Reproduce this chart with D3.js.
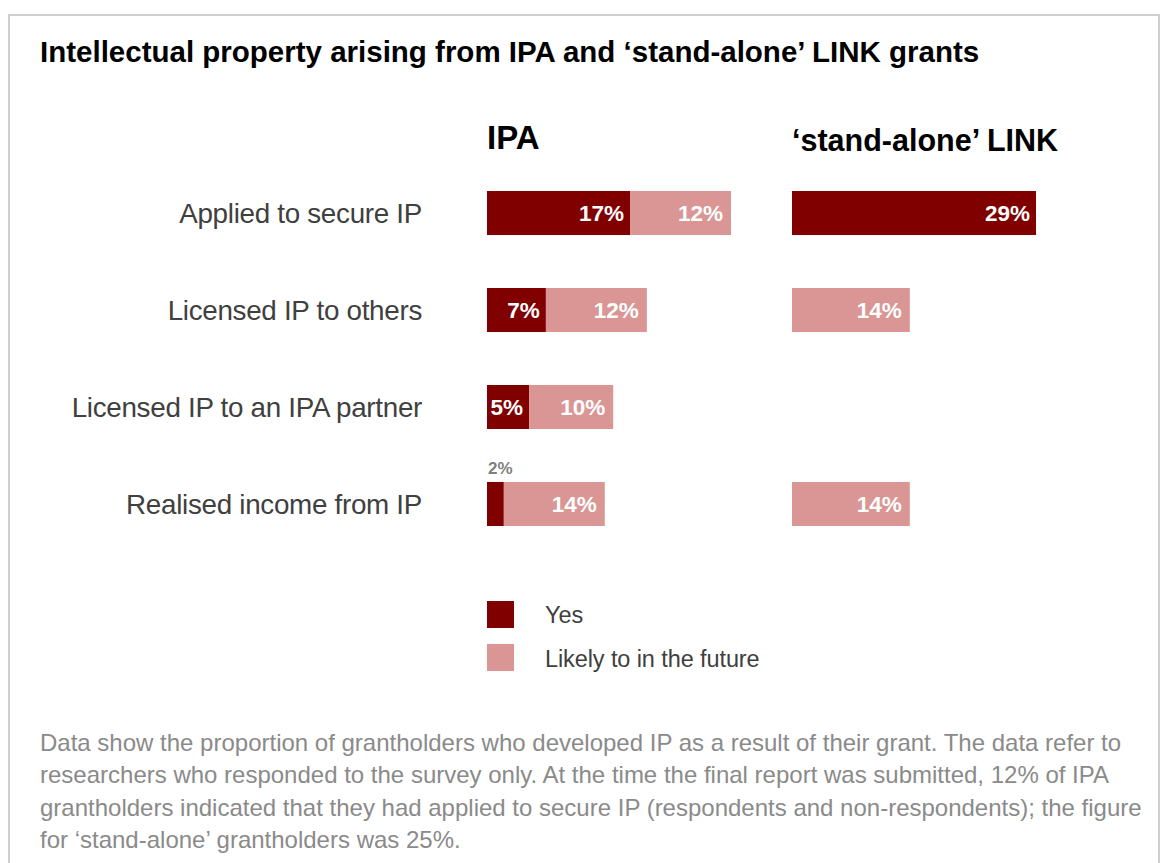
<!DOCTYPE html>
<html>
<head>
<meta charset="utf-8">
<script src="https://cdn.jsdelivr.net/npm/d3@7"></script>
<style>
  body { margin: 0; background: #fff; }
  svg { font-family: "Liberation Sans", Arial, sans-serif; }
</style>
</head>
<body>
<script>
// data
const categories = ['Applied to secure IP', 'Licensed IP to others', 'Licensed IP to an IPA partner', 'Realised income from IP'];
const ipaYes = [17, 7, 5, 2];
const ipaLikely = [12, 12, 10, 12];
const ipaYesLabels = ['17%', '7%', '5%', '2%'];
const ipaLikelyLabels = ['12%', '12%', '10%', '14%'];
const linkYes = [29, 0, 0, 0];
const linkLikely = [0, 14, 0, 14];
const linkYesLabels = ['29%', '', '', ''];
const linkLikelyLabels = ['', '14%', '', '14%'];
const seriesNames = ['Yes', 'Likely to in the future'];
const colors = ['#800000', '#d99694'];
const footnote = [
  'Data show the proportion of grantholders who developed IP as a result of their grant. The data refer to',
  'researchers who responded to the survey only. At the time the final report was submitted, 12% of IPA',
  'grantholders indicated that they had applied to secure IP (respondents and non-respondents); the figure',
  'for \u2018stand-alone\u2019 grantholders was 25%.'
];

const width = 1164, height = 863;

let svg = d3.select('body').append('svg')
    .attr('width', width)
    .attr('height', height);

// frame
svg.append('rect')
    .attr('x', 9).attr('y', 15)
    .attr('width', 1150).attr('height', 900)
    .attr('fill', 'none')
    .attr('stroke', '#cfcfcf')
    .attr('stroke-width', 2);

// title
svg.append('text')
    .attr('x', 40).attr('y', 62)
    .attr('font-size', 29.5).attr('font-weight', 'bold')
    .attr('fill', '#000')
    .text('Intellectual property arising from IPA and \u2018stand-alone\u2019 LINK grants');

// scales
let x = d3.scaleLinear().domain([0, 29]).range([0, 244]);
let y = d3.scaleBand().domain(categories).range([191, 526]).paddingInner(0.546).paddingOuter(0);

// category labels
svg.append('g').selectAll('text')
    .data(categories)
    .enter().append('text')
    .attr('x', 422)
    .attr('y', d => y(d) + y.bandwidth() / 2 + 10)
    .attr('text-anchor', 'end')
    .attr('font-size', 27.8)
    .attr('letter-spacing', -0.3)
    .attr('fill', '#404040')
    .text(d => d);

const drawPanel = (x0, title, titleSize, titleY, yesVals, likelyVals, yesLabels, likelyLabels) => {
  let g = svg.append('g').attr('transform', `translate(${x0},0)`);
  g.append('text')
      .attr('x', 0).attr('y', titleY)
      .attr('font-size', titleSize).attr('font-weight', 'bold')
      .text(title);

  let rows = categories.map((c, i) => ({
    cat: c, yes: yesVals[i], likely: likelyVals[i], yl: yesLabels[i], ll: likelyLabels[i]
  }));

  // yes segments
  g.append('g').selectAll('rect')
      .data(rows.filter(d => d.yes > 0))
      .enter().append('rect')
      .attr('x', x(0))
      .attr('y', d => y(d.cat))
      .attr('width', d => x(d.yes) - x(0))
      .attr('height', y.bandwidth())
      .attr('fill', colors[0]);

  // likely segments
  g.append('g').selectAll('rect')
      .data(rows.filter(d => d.likely > 0))
      .enter().append('rect')
      .attr('x', d => x(d.yes))
      .attr('y', d => y(d.cat))
      .attr('width', d => x(d.yes + d.likely) - x(d.yes))
      .attr('height', y.bandwidth())
      .attr('fill', colors[1]);

  // labels inside (or above if too narrow)
  rows.forEach(d => {
    if (d.yl) {
      let narrow = x(d.yes) - x(0) < 30;
      g.append('text')
          .attr('x', narrow ? x(0) + 1 : x(d.yes) - 6)
          .attr('y', narrow ? y(d.cat) - 8 : y(d.cat) + y.bandwidth() / 2 + 8)
          .attr('text-anchor', narrow ? 'start' : 'end')
          .attr('font-size', narrow ? 17 : 22.5)
          .attr('font-weight', 'bold')
          .attr('fill', narrow ? '#808080' : '#fff')
          .text(d.yl);
    }
    if (d.ll) {
      g.append('text')
          .attr('x', x(d.yes + d.likely) - 8)
          .attr('y', y(d.cat) + y.bandwidth() / 2 + 8)
          .attr('text-anchor', 'end')
          .attr('font-size', 22.5)
          .attr('font-weight', 'bold')
          .attr('fill', '#fff')
          .text(d.ll);
    }
  });
};

drawPanel(487, 'IPA', 33, 149, ipaYes, ipaLikely, ipaYesLabels, ipaLikelyLabels);
drawPanel(792, '\u2018stand-alone\u2019 LINK', 30.5, 151, linkYes, linkLikely, linkYesLabels, linkLikelyLabels);

// legend
let legend = svg.append('g').attr('transform', 'translate(487, 601)');
legend.selectAll('rect')
    .data(seriesNames)
    .enter().append('rect')
    .attr('x', 0)
    .attr('y', (d, i) => i * 43)
    .attr('width', 27).attr('height', 27)
    .attr('fill', (d, i) => colors[i]);
legend.selectAll('text')
    .data(seriesNames)
    .enter().append('text')
    .attr('x', 58)
    .attr('y', (d, i) => i * 44 + 22)
    .attr('font-size', 23.5)
    .attr('letter-spacing', -0.1)
    .attr('fill', '#404040')
    .text(d => d);

// footnote
svg.append('g').selectAll('text')
    .data(footnote)
    .enter().append('text')
    .attr('x', 40)
    .attr('y', (d, i) => 751 + i * 32.3)
    .attr('font-size', 24)
    .attr('fill', '#8a8a8a')
    .text(d => d);
</script>
</body>
</html>
